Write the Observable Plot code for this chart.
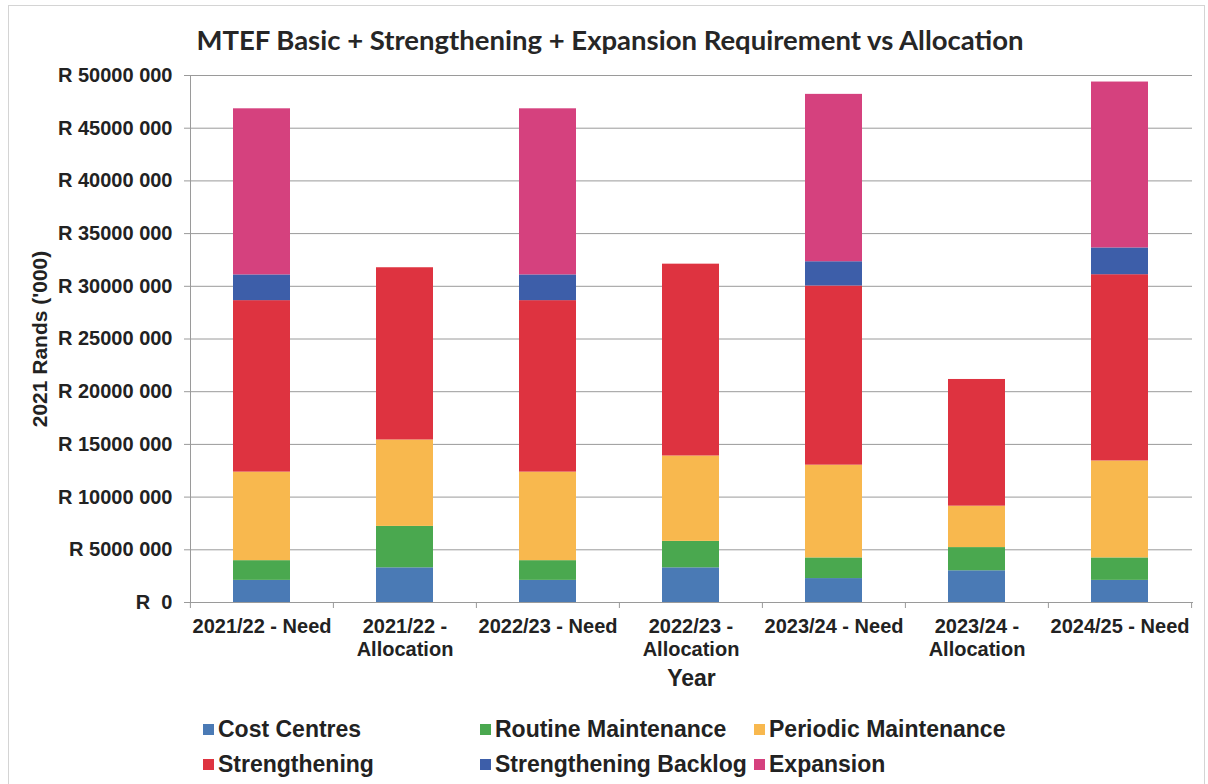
<!DOCTYPE html>
<html><head><meta charset="utf-8">
<script src="https://cdn.jsdelivr.net/npm/d3@7"></script>
<script src="https://cdn.jsdelivr.net/npm/@observablehq/plot@0.6"></script>
<style>
body{margin:0;background:#fff;width:1208px;height:784px;overflow:hidden;position:relative;font-family:"Liberation Sans",Arial,sans-serif;color:#222}
#frame{position:absolute;left:8px;top:5px;width:1195px;height:800px;border:1px solid #d4d4d4;pointer-events:none}
#title{height:40px;padding-top:24px;line-height:32px;text-align:center;padding-left:12px;font-family:Lato,"Open Sans",sans-serif;font-weight:700;font-size:27.5px;color:#262626}
#chart svg{display:block}
.lg{position:absolute;display:flex;align-items:center;font-weight:bold;font-size:23px;line-height:26px;white-space:nowrap;color:#222}
.lg span.sw{display:inline-block;width:11px;height:11px;margin-right:4px}
</style></head>
<body>
<div id="frame"></div>
<div id="title">MTEF Basic + Strengthening + Expansion Requirement vs Allocation</div>
<div id="chart"></div>
<div id="legend"></div>
<script>
const categories = ["2021/22 - Need","2021/22 - Allocation","2022/23 - Need","2022/23 - Allocation","2023/24 - Need","2023/24 - Allocation","2024/25 - Need"];
const categoryLabels = ["2021/22 - Need","2021/22 -\nAllocation","2022/23 - Need","2022/23 -\nAllocation","2023/24 - Need","2023/24 -\nAllocation","2024/25 - Need"];
const seriesNames = ["Cost Centres","Routine Maintenance","Periodic Maintenance","Strengthening","Strengthening Backlog","Expansion"];
const seriesColors = ["#4a7ab5","#4aa84f","#f8b84e","#de3340","#3d5ea9","#d5417e"];
const costCentres   = [2100000, 3290000, 2100000, 3290000, 2270000, 3010000, 2100000];
const routine       = [1870000, 3930000, 1870000, 2510000, 1960000, 2200000, 2130000];
const periodic      = [8400000, 8200000, 8400000, 8100000, 8800000, 3930000, 9200000];
const strengthening = [16270000, 16340000, 16270000, 18200000, 17000000, 12020000, 17670000];
const backlog       = [2440000, 0, 2440000, 0, 2300000, 0, 2540000];
const expansion     = [15760000, 0, 15760000, 0, 15880000, 0, 15740000];
const yTicks = [0,5000000,10000000,15000000,20000000,25000000,30000000,35000000,40000000,45000000,50000000];

const seriesValues = [costCentres, routine, periodic, strengthening, backlog, expansion];
const rows = [];
categories.forEach((c, i) => seriesNames.forEach((s, j) => rows.push({category: c, series: s, value: seriesValues[j][i]})));

const labelOf = d => categoryLabels[categories.indexOf(d)];
const fmtY = d => d === 0 ? "R \u00a00" : `R ${d/1000} 000`;

const chart = Plot.plot({
  width: 1208, height: 632,
  marginTop: 11, marginBottom: 94, marginLeft: 190, marginRight: 16,
  style: {fontFamily: "'Liberation Sans', Arial, sans-serif", fontSize: "20px", fontWeight: "bold", color: "#222", background: "transparent"},
  x: {domain: categories, paddingInner: 0.6, paddingOuter: 0.3, label: null},
  y: {domain: [0, 50000000], label: null},
  color: {domain: seriesNames, range: seriesColors},
  marks: [
    Plot.gridY(yTicks, {stroke: "#9a9a9a", strokeOpacity: 1}),
    Plot.barY(rows, {x: "category", y: "value", fill: "series"}),
    Plot.frame({anchor: "left", stroke: "#9a9a9a"}),
    Plot.frame({anchor: "bottom", stroke: "#9a9a9a"}),
    Plot.ruleX(categories, {x: d => d, y1: 0, y2: 0, dx: -71.6, insetBottom: -6, stroke: "#9a9a9a"}),
    Plot.ruleX([categories[categories.length-1]], {x: d => d, y1: 0, y2: 0, dx: 71.6, insetBottom: -6, stroke: "#9a9a9a"}),
    Plot.axisY(yTicks, {tickFormat: fmtY, tickSize: 6, tickPadding: 12, stroke: "#9a9a9a", fill: "#222", label: null}),
    Plot.axisX({tickSize: 0, tickPadding: 14, tickFormat: labelOf, lineHeight: 1.15, fill: "#222", label: null}),
    Plot.text(["2021 Rands ('000)"], {frameAnchor: "left", textAnchor: "middle", text: d => d, rotate: -90, dx: -150, fontSize: 21, fill: "#222"}),
    Plot.text(["Year"], {frameAnchor: "bottom", text: d => d, dy: 83, fontSize: 23, fill: "#222"})
  ]
});
document.getElementById("chart").appendChild(chart);

const legendPos = [[203,716],[480,716],[754,716],[203,751],[480,751],[754,751]];
const legend = document.getElementById("legend");
seriesNames.forEach((s, i) => {
  const d = document.createElement("div");
  d.className = "lg";
  d.style.left = legendPos[i][0] + "px";
  d.style.top = legendPos[i][1] + "px";
  d.innerHTML = `<span class="sw" style="background:${seriesColors[i]}"></span>${s}`;
  legend.appendChild(d);
});
</script>
</body></html>
